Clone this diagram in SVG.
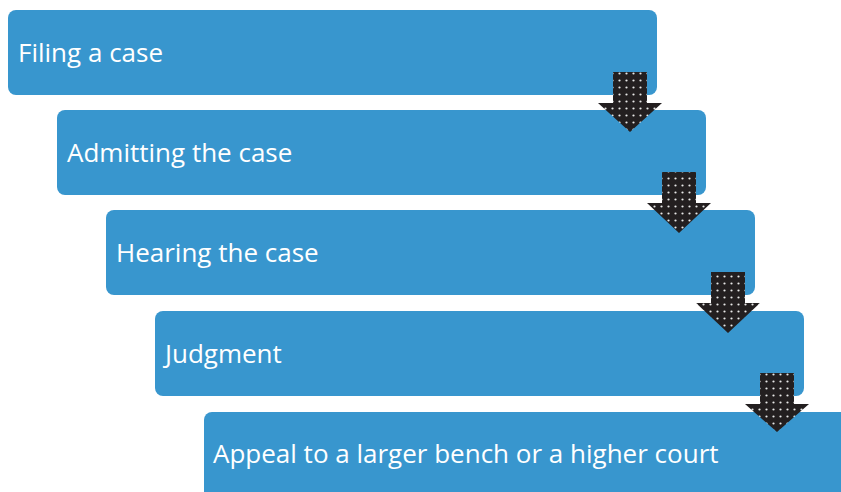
<svg xmlns="http://www.w3.org/2000/svg" width="841" height="492" viewBox="0 0 841 492">
<defs>
<style>
.box{fill:#3896CE}
.lbl{fill:#ffffff;font-family:"Open Sans","Liberation Sans",sans-serif;font-size:26px}
.arr{fill:url(#dots)}
</style>
<pattern id="dots" width="7" height="7" patternUnits="userSpaceOnUse">
<rect width="7" height="7" fill="#231f20"/>
<circle cx="3.5" cy="3.5" r="1.1" fill="#e8e8e8"/>
</pattern>
</defs>
<rect width="841" height="492" fill="#ffffff"/>
<g id="n1"><rect class="box" x="8" y="10" width="649" height="85" rx="8"/><text class="lbl" x="18" y="62">Filing a case</text></g>
<g id="n2"><rect class="box" x="57" y="110" width="649" height="85" rx="8"/><text class="lbl" x="67" y="162">Admitting the case</text></g>
<g id="n3"><rect class="box" x="106" y="210" width="649" height="85" rx="8"/><text class="lbl" x="116" y="262">Hearing the case</text></g>
<g id="n4"><rect class="box" x="155" y="311" width="649" height="85" rx="8"/><text class="lbl" x="165" y="363">Judgment</text></g>
<g id="n5"><rect class="box" x="204" y="412" width="660" height="100" rx="8"/><text class="lbl" x="213" y="463">Appeal to a larger bench or a higher court</text></g>
<g id="connectors">
<polygon class="arr" points="613,72 647,72 647,103 662,103 630,132 598,103 613,103"/>
<polygon class="arr" points="662,172 696,172 696,203 711,203 679,233 647,203 662,203"/>
<polygon class="arr" points="711,272 745,272 745,303 760,303 728,333 696,303 711,303"/>
<polygon class="arr" points="760,373 794,373 794,404 809,404 777,432 745,404 760,404"/>
</g>
</svg>
